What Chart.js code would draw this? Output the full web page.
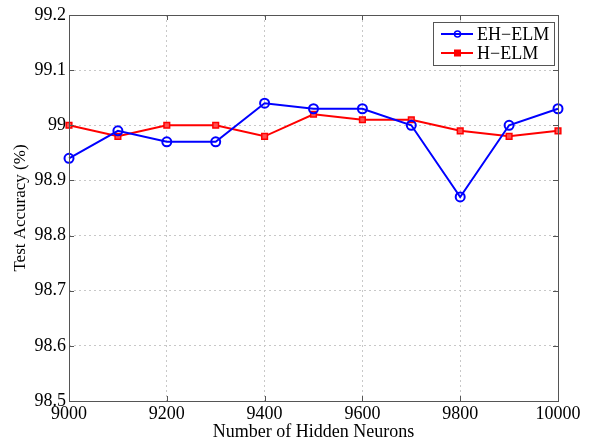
<!DOCTYPE html>
<html>
<head>
<meta charset="utf-8">
<script src="https://cdn.jsdelivr.net/npm/chart.js@4"></script>
<style>
  html, body { margin: 0; padding: 0; background: #fff; }
  #wrap { width: 611px; height: 439px; }
</style>
</head>
<body>
<div id="wrap"><canvas id="myChart" width="611" height="439"></canvas></div>
<script>
const neurons = [9000, 9100, 9200, 9300, 9400, 9500, 9600, 9700, 9800, 9900, 10000];
const ehElm = [98.94, 98.99, 98.97, 98.97, 99.04, 99.03, 99.03, 99.00, 98.87, 99.00, 99.03];
const hElm = [99.00, 98.98, 99.00, 99.00, 98.98, 99.02, 99.01, 99.01, 98.99, 98.98, 98.99];
const yTicks = [98.5, 98.6, 98.7, 98.8, 98.9, 99, 99.1, 99.2];
const xTicks = [9000, 9200, 9400, 9600, 9800, 10000];

const serif = '"Liberation Serif", "DejaVu Serif", serif';

function toPoints(vals) {
   return neurons.map((n, i) => ({x: n, y: vals[i]}));
}

// box round the axes, plus a matlab style legend inside the top right
const boxAndLegend = {
   id: 'boxAndLegend',
   afterDraw(chart) {
      const {ctx, chartArea: a} = chart;
      ctx.save();
      ctx.strokeStyle = '#555';
      ctx.lineWidth = 1;
      ctx.strokeRect(a.left + 0.5, a.top + 0.5, a.right - a.left, a.bottom - a.top);

      // little inward ticks on all four sides
      const xs = chart.scales.x, ys = chart.scales.y;
      ctx.beginPath();
      xTicks.forEach(v => {
         const px = Math.round(xs.getPixelForValue(v)) + 0.5;
         ctx.moveTo(px, a.bottom); ctx.lineTo(px, a.bottom - 5);
         ctx.moveTo(px, a.top); ctx.lineTo(px, a.top + 5);
      });
      yTicks.forEach(v => {
         const py = Math.round(ys.getPixelForValue(v)) + 0.5;
         ctx.moveTo(a.left, py); ctx.lineTo(a.left + 5, py);
         ctx.moveTo(a.right, py); ctx.lineTo(a.right - 5, py);
      });
      ctx.stroke();

      const lw = 121, lh = 43;
      const lx = a.right - 125, ly = a.top + 7;
      ctx.fillStyle = '#fff';
      ctx.fillRect(lx, ly, lw, lh);
      ctx.strokeStyle = '#555';
      ctx.strokeRect(lx + 0.5, ly + 0.5, lw, lh);
      ctx.font = '18px ' + serif;
      ctx.textBaseline = 'middle';
      chart.data.datasets.forEach((ds, i) => {
         const cy = ly + 12 + i * 19;
         ctx.strokeStyle = ds.borderColor;
         ctx.lineWidth = 2;
         ctx.beginPath();
         ctx.moveTo(lx + 8, cy); ctx.lineTo(lx + 40, cy);
         ctx.stroke();
         ctx.fillStyle = ds.borderColor;
         ctx.lineWidth = 1.5;
         if (ds.pointStyle === 'rect') {
            ctx.fillRect(lx + 21, cy - 3.5, 7, 7);
         } else {
            ctx.beginPath();
            ctx.arc(lx + 24.5, cy, 3, 0, Math.PI * 2);
            ctx.stroke();
         }
         ctx.fillStyle = '#000';
         ctx.fillText(ds.label, lx + 44, cy + 1);
      });
      ctx.restore();
   }
};

const config = {
   type: 'line',
   data: {
      datasets: [{
         label: 'EH\u2212ELM',
         data: toPoints(ehElm),
         borderColor: '#0000ff',
         backgroundColor: 'rgba(0,0,0,0)',
         borderWidth: 2,
         pointStyle: 'circle',
         pointRadius: 4.5,
         pointBorderWidth: 2,
         pointBorderColor: '#0000ff',
         pointBackgroundColor: 'rgba(0,0,0,0)',
         clip: false
      }, {
         label: 'H\u2212ELM',
         data: toPoints(hElm),
         borderColor: '#ff0000',
         backgroundColor: '#ff0000',
         borderWidth: 2,
         pointStyle: 'rect',
         pointRadius: 4,
         pointBorderWidth: 1.5,
         pointBorderColor: '#ff0000',
         pointBackgroundColor: '#ff5050',
         clip: false
      }]
   },
   options: {
      responsive: false,
      animation: false,
      layout: {padding: {top: 15, right: 53, left: 0, bottom: 0}},
      plugins: {legend: {display: false}, tooltip: {enabled: false}},
      scales: {
         x: {
            type: 'linear',
            min: 9000, max: 10000,
            afterBuildTicks: s => { s.ticks = xTicks.map(v => ({value: v})); },
            afterFit: s => { s.height = 38; },
            ticks: {color: '#000', font: {family: serif, size: 18}, padding: 2, maxRotation: 0,
                    callback: v => String(v)},
            grid: {color: '#c8c8c8', drawTicks: false},
            border: {display: false, dash: [2, 3]},
            title: {display: true, text: 'Number of Hidden Neurons', color: '#000',
                    font: {family: serif, size: 18}, padding: {top: 0, bottom: -4}}
         },
         y: {
            min: 98.5, max: 99.2,
            afterBuildTicks: s => { s.ticks = yTicks.map(v => ({value: v})); },
            afterFit: s => { s.width = 69; },
            ticks: {color: '#000', font: {family: serif, size: 18}, padding: 3,
                    callback: v => String(Math.round(v * 10) / 10)},
            grid: {color: '#c8c8c8', drawTicks: false},
            border: {display: false, dash: [2, 3]},
            title: {display: true, text: 'Test Accuracy (%)', color: '#000',
                    font: {family: serif, size: 17}, padding: {top: 10, bottom: 0}}
         }
      }
   },
   plugins: [boxAndLegend]
};

const myChart = new Chart(document.getElementById('myChart'), config);
</script>
</body>
</html>
